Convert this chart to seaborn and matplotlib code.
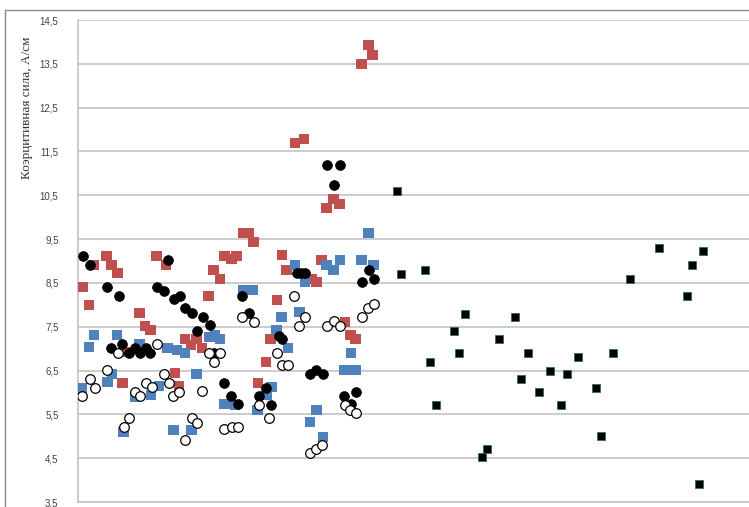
import matplotlib
matplotlib.use("Agg")
import matplotlib.pyplot as plt
import seaborn as sns
from matplotlib.lines import Line2D
from matplotlib.ticker import FixedLocator, FuncFormatter

# Данные (x - номер образца в условных единицах)
red_x = [0.9, 2.2, 3.1, 5.7, 6.7, 7.9, 8.9, 10.1, 12.3, 13.4, 14.5, 15.7, 17.6, 19.4, 20.2, 21.4,
         22.6, 23.7, 24.8, 26.1, 27.1, 28.4, 29.3, 30.7, 31.7, 33.0, 34.2, 35.1, 36.0, 37.6, 38.5,
         39.8, 40.8, 41.7, 43.4, 45.2, 46.7, 47.7, 48.7, 49.7, 51.1, 52.3, 53.4, 54.5, 55.5, 56.7,
         58.1, 58.9]
red_y = [8.41, 7.99, 8.91, 9.11, 8.91, 8.72, 6.22, 6.93, 7.82, 7.52, 7.42, 9.11, 8.91, 6.44, 6.14,
         7.21, 7.08, 7.21, 7.01, 8.20, 8.79, 8.60, 9.11, 9.04, 9.11, 9.63, 9.63, 9.43, 6.22, 6.70,
         7.21, 8.12, 9.13, 8.79, 11.70, 11.78, 8.60, 8.53, 9.02, 10.21, 10.41, 10.30, 7.61, 7.31,
         7.22, 13.49, 13.93, 13.70]

blue_x = [0.8, 2.2, 3.2, 5.9, 6.8, 7.8, 9.1, 11.4, 12.3, 14.6, 16.2, 17.9, 19.1, 19.8, 21.4, 22.7,
          23.7, 26.3, 27.4, 28.4, 29.3, 31.4, 33.0, 35.0, 35.9, 37.7, 38.7, 39.7, 40.7, 42.0, 43.4,
          44.3, 45.4, 46.4, 47.7, 49.0, 49.7, 51.1, 52.4, 53.3, 54.6, 55.5, 56.7, 58.1, 59.1]
blue_y = [6.11, 7.03, 7.30, 6.23, 6.43, 7.30, 5.10, 5.90, 7.11, 5.94, 6.14, 7.02, 5.14, 6.98, 6.89,
          5.14, 6.43, 7.27, 7.31, 7.23, 5.73, 5.71, 8.34, 8.34, 5.61, 5.94, 6.12, 7.42, 7.73, 7.01,
          8.91, 7.83, 8.53, 5.33, 5.60, 4.99, 8.91, 8.79, 9.02, 6.51, 6.89, 6.51, 9.02, 9.63, 8.91]

dot_x = [0.9, 2.3, 5.7, 8.1, 6.5, 8.7, 10.1, 11.4, 12.4, 13.6, 14.4, 15.7, 17.1, 17.9, 19.2, 20.3,
         21.4, 22.7, 23.7, 24.9, 26.3, 27.1, 29.1, 30.6, 32.0, 32.7, 34.1, 36.1, 37.5, 38.5, 40.1,
         40.7, 43.7, 44.6, 45.4, 46.4, 47.5, 48.9, 49.7, 51.1, 52.4, 53.2, 54.6, 55.5, 56.7, 58.1,
         59.1]
dot_y = [9.11, 8.92, 8.40, 8.20, 7.01, 7.10, 6.90, 7.02, 6.90, 7.02, 6.90, 8.40, 8.32, 9.02, 8.13,
         8.21, 7.92, 7.82, 7.41, 7.72, 7.53, 6.90, 6.22, 5.93, 5.73, 8.21, 7.81, 5.93, 6.11, 5.71,
         7.29, 7.21, 8.72, 8.72, 8.72, 6.43, 6.51, 6.43, 11.19, 10.73, 11.19, 5.92, 5.73, 6.01,
         8.53, 8.79, 8.60]

ring_x = [0.8, 2.3, 3.3, 5.7, 8.0, 9.1, 10.1, 11.4, 12.4, 13.5, 14.7, 15.7, 17.1, 18.1, 19.0, 20.2,
          21.4, 22.7, 23.7, 24.8, 26.1, 27.1, 28.4, 29.2, 30.7, 32.0, 32.7, 35.1, 36.2, 38.2, 39.8,
          40.7, 41.9, 43.2, 44.2, 45.4, 46.4, 47.6, 48.8, 49.7, 51.1, 52.3, 53.3, 54.4, 55.5, 56.7,
          57.9, 59.1]
ring_y = [5.92, 6.31, 6.11, 6.51, 6.91, 5.22, 5.41, 6.01, 5.92, 6.22, 6.12, 7.11, 6.43, 6.22, 5.92,
          6.01, 4.91, 5.41, 5.30, 6.03, 6.89, 6.70, 6.89, 5.16, 5.22, 5.22, 7.72, 7.61, 5.71, 5.41,
          6.89, 6.62, 6.62, 8.19, 7.52, 7.73, 4.62, 4.72, 4.81, 7.52, 7.62, 7.52, 5.71, 5.61, 5.52,
          7.73, 7.92, 8.01]

sq_x = [63.7, 64.6, 69.4, 77.3, 75.1, 76.1, 70.3, 71.6, 81.7, 80.7, 87.4, 84.2, 89.9, 88.6, 92.2,
        94.3, 97.7, 96.5, 100.0, 103.5, 104.5, 107.0, 110.4, 116.1, 121.8, 122.7, 124.9, 124.1]
sq_y = [10.60, 8.71, 8.79, 7.80, 7.41, 6.90, 6.70, 5.71, 4.72, 4.52, 7.72, 7.21, 6.90, 6.30, 6.02,
        6.50, 6.42, 5.71, 6.81, 6.11, 5.00, 6.90, 8.59, 9.30, 8.20, 8.91, 9.22, 3.91]

y_ticks = [3.5, 4.5, 5.5, 6.5, 7.5, 8.5, 9.5, 10.5, 11.5, 12.5, 13.5, 14.5]
y_title = "Коэрцитивная сила, А/см"

sns.set_theme(style="white")
plt.rcParams['font.family'] = ['Liberation Sans', 'DejaVu Sans']

fig = plt.figure(figsize=(7.49, 5.07), dpi=100)
ax = fig.add_axes([78 / 749, 5 / 507, 1 - 78 / 749, 482 / 507])

sns.scatterplot(x=red_x, y=red_y, ax=ax, marker="s", s=52, color="#C0504D", edgecolor="none",
                linewidth=0, zorder=3)
sns.scatterplot(x=blue_x, y=blue_y, ax=ax, marker="s", s=52, color="#4F81BD", edgecolor="none",
                linewidth=0, zorder=4)
sns.scatterplot(x=dot_x, y=dot_y, ax=ax, marker="o", s=50, color="black", edgecolor="black",
                linewidth=0.5, zorder=5)
sns.scatterplot(x=ring_x, y=ring_y, ax=ax, marker="o", s=48, color="white", edgecolor="black",
                linewidth=0.9, zorder=6)
sns.scatterplot(x=sq_x, y=sq_y, ax=ax, marker="s", s=38, color="black", edgecolor="#2f6b6b",
                linewidth=0.6, zorder=7)

ax.set_xlim(0, 134.2)
ax.set_ylim(3.5, 14.5)
ax.set_xticks([])
ax.yaxis.set_major_locator(FixedLocator(y_ticks))
ax.yaxis.set_major_formatter(FuncFormatter(lambda v, p: f"{v:.1f}".replace(".", ",")))
ax.tick_params(axis="y", length=0, pad=14, labelsize=7, labelcolor="#404040")
ax.grid(axis="y", color="#BFBFBF", linewidth=1.1)
ax.set_axisbelow(True)
for side in ["top", "right"]:
    ax.spines[side].set_visible(False)
ax.spines["left"].set_color("#BFBFBF")
ax.spines["bottom"].set_color("#BFBFBF")
ax.spines["left"].set_linewidth(1.1)
ax.spines["bottom"].set_linewidth(1.1)

fig.text(27 / 749, 1 - 108 / 507, y_title, rotation=90, ha="center", va="center",
         fontsize=9.5, family=["Liberation Serif", "DejaVu Serif"], color="#333333")

# рамка области диаграммы
fig.add_artist(Line2D([5 / 749, 5 / 749], [0, 1 - 10 / 507], transform=fig.transFigure,
                      color="#8C8C8C", linewidth=1.0))
fig.add_artist(Line2D([5 / 749, 1], [1 - 10 / 507, 1 - 10 / 507], transform=fig.transFigure,
                      color="#8C8C8C", linewidth=1.0))

fig.savefig("out.png", dpi=100, facecolor="white")
